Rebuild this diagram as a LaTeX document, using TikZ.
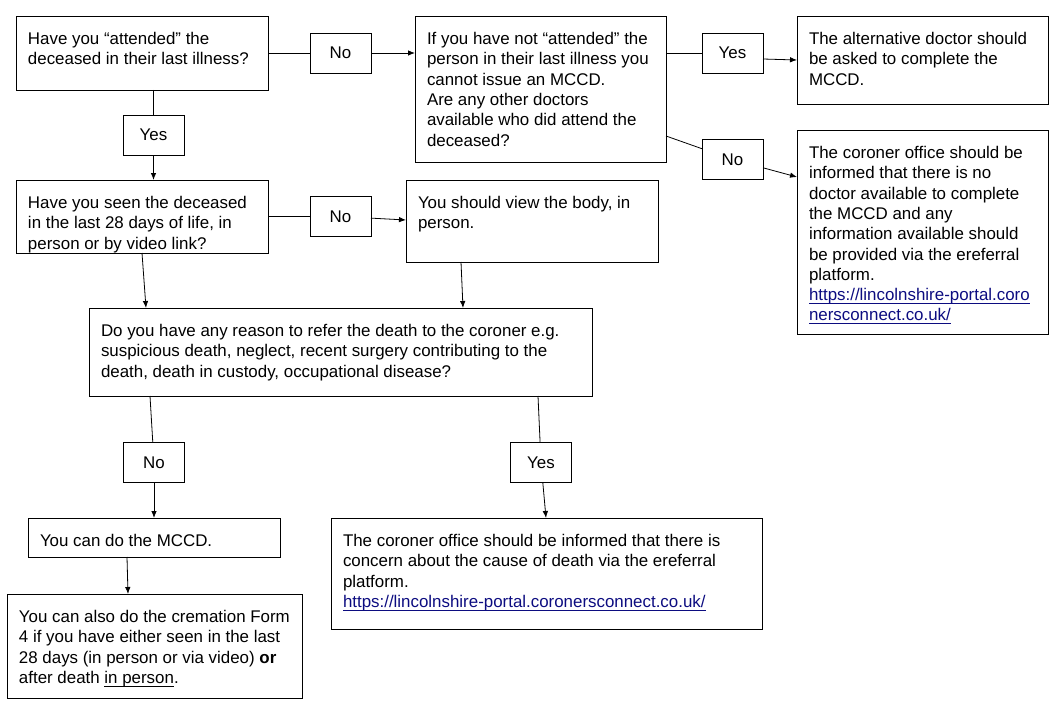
\documentclass[tikz,border=0pt]{standalone}
\usepackage{fontspec}
\setmainfont{Liberation Sans}
\usepackage{xcolor}
\usepackage{tikz}
\usetikzlibrary{arrows.meta,positioning,calc}

\definecolor{linkblue}{RGB}{12,12,128}

% box text: width, height, lines (top aligned)
\newcommand{\cardtext}[3]{%
	\vbox to #2{\vskip14.3pt\hbox to #1{\hspace*{12pt}\parbox[t]{\dimexpr#1-16pt\relax}{\raggedright\strut#3}\hss}\vss}}
\newsavebox{\ulbox}
\newcommand{\thickul}[1]{\sbox{\ulbox}{#1}\leavevmode\rlap{\usebox{\ulbox}}\rule[-3.5pt]{\wd\ulbox}{1.3pt}}
\newcommand{\weblink}[1]{\textcolor{linkblue}{\thickul{#1}}}

\tikzset{
	card/.style={draw, line width=0.9pt, anchor=north west, inner sep=0pt, outer sep=0pt},
	answer/.style={draw, line width=0.9pt, minimum width=61pt, minimum height=40pt, inner sep=0pt, outer sep=0pt},
	flow/.style={line width=0.8pt, -{Latex[length=7pt,width=5.5pt]}},
	joint/.style={line width=0.8pt}
}

\begin{document}
\begin{tikzpicture}[x=1pt, y=-1pt, font=\fontsize{16.9}{20.3}\selectfont]
		
		\useasboundingbox (0,0) rectangle (1061,709);
		
		\begin{scope}
		
		\node[card] (Q_att) at (16,16) {\cardtext{252pt}{74pt}{Have you “attended” the\\deceased in their last illness?}};
		
		\node[card] (Q_other) at (415,16) {\cardtext{251pt}{146pt}{If you have not “attended” the\\person in their last illness you\\cannot issue an MCCD.\\Are any other doctors\\available who did attend the\\deceased?}};
		
		\node[card] (Alt_doc) at (797,16) {\cardtext{251pt}{88pt}{The alternative doctor should\\be asked to complete the\\MCCD.}};
		
		\node[card] (Cor_none) at (797,130) {\cardtext{251pt}{204pt}{The coroner office should be\\informed that there is no\\doctor available to complete\\the MCCD and any\\information available should\\be provided via the ereferral\\platform.\\\weblink{https://lincolnshire-portal.coro}\\\weblink{nersconnect.co.uk/}}};
		
		\node[answer] (No_att) [right=42pt of Q_att] {No};
		
		\node[answer] (Yes_other) at (732.5,53) {Yes};
		
		\node[answer] (No_other) at (732.5,159.5) {No};
		
		\node[answer] (Yes_att) at ($(Q_att.south) + (11.5,45)$) {Yes};
		
		\draw[joint] (Q_att) -- (No_att);
		
		\draw[flow] (No_att) -- (No_att -| Q_other.west);
		
		\draw[joint] (Q_other.east |- Yes_other) -- (Yes_other.west);
		
		\draw[flow] ([yshift=-6pt]Yes_other.east) -- (Alt_doc.west);
		
		\draw[joint] ([yshift=26pt]Q_other.south east) -- (No_other);
		
		\draw[flow] (No_other) -- ([yshift=-47pt]Cor_none.north west);
		
		\end{scope}
		
		
		\begin{scope}
		
		\node[card] (Q_seen) at (16,180) {\cardtext{252pt}{73pt}{Have you seen the deceased\\in the last 28 days of life, in\\person or by video link?}};
		
		\node[answer] (No_seen) [right=42pt of Q_seen] {No};
		
		\node[card] (View_body) at (406,180) {\cardtext{252pt}{82pt}{You should view the body, in\\person.}};
		
		\draw[joint] (Q_att.south -| Yes_att) -- (Yes_att);
		
		\draw[flow] (Yes_att) -- (Yes_att |- Q_seen.north);
		
		\draw[joint] (Q_seen) -- (No_seen);
		
		\draw[flow] (No_seen) -- ([yshift=-40pt]View_body.north west);
		
		\end{scope}
		
		
		\begin{scope}
		
		\node[card] (Q_refer) at (89,308) {\cardtext{503pt}{88pt}{Do you have any reason to refer the death to the coroner e.g.\\suspicious death, neglect, recent surgery contributing to the\\death, death in custody, occupational disease?}};
		
		\node[answer] (No_refer) at (154,462.5) {No};
		
		\node[answer] (Yes_refer) at (541,462.5) {Yes};
		
		\node[card] (Do_MCCD) at (28,518) {\cardtext{252pt}{39pt}{You can do the MCCD.}};
		
		\node[card] (Cor_concern) at (331,518) {\cardtext{431pt}{111pt}{The coroner office should be informed that there is\\concern about the cause of death via the ereferral\\platform.\\\weblink{https://lincolnshire-portal.coronersconnect.co.uk/}}};
		
		\node[card] (Crem_form) at (7,594) {\cardtext{295pt}{104pt}{You can also do the cremation Form\\4 if you have either seen in the last\\28 days (in person or via video) \textbf{or}\\after death \thickul{in person}.}};
		
		\draw[flow] (Q_seen.south) -- ([xshift=57pt]Q_refer.north west);
		
		\draw[flow] ([xshift=55pt]View_body.south west) -- ([xshift=374pt]Q_refer.north west);
		
		\draw[joint] ([xshift=61pt]Q_refer.south west) -- (No_refer);
		
		\draw[flow] (No_refer) -- (No_refer |- Do_MCCD.north);
		
		\draw[joint] ([xshift=449pt]Q_refer.south west) -- (Yes_refer);
		
		\draw[flow] (Yes_refer) -- ([xshift=215pt]Cor_concern.north west);
		
		\draw[flow] ([xshift=99pt]Do_MCCD.south west) -- ([xshift=121pt]Crem_form.north west);
		
		\end{scope}
		
\end{tikzpicture}
\end{document}
